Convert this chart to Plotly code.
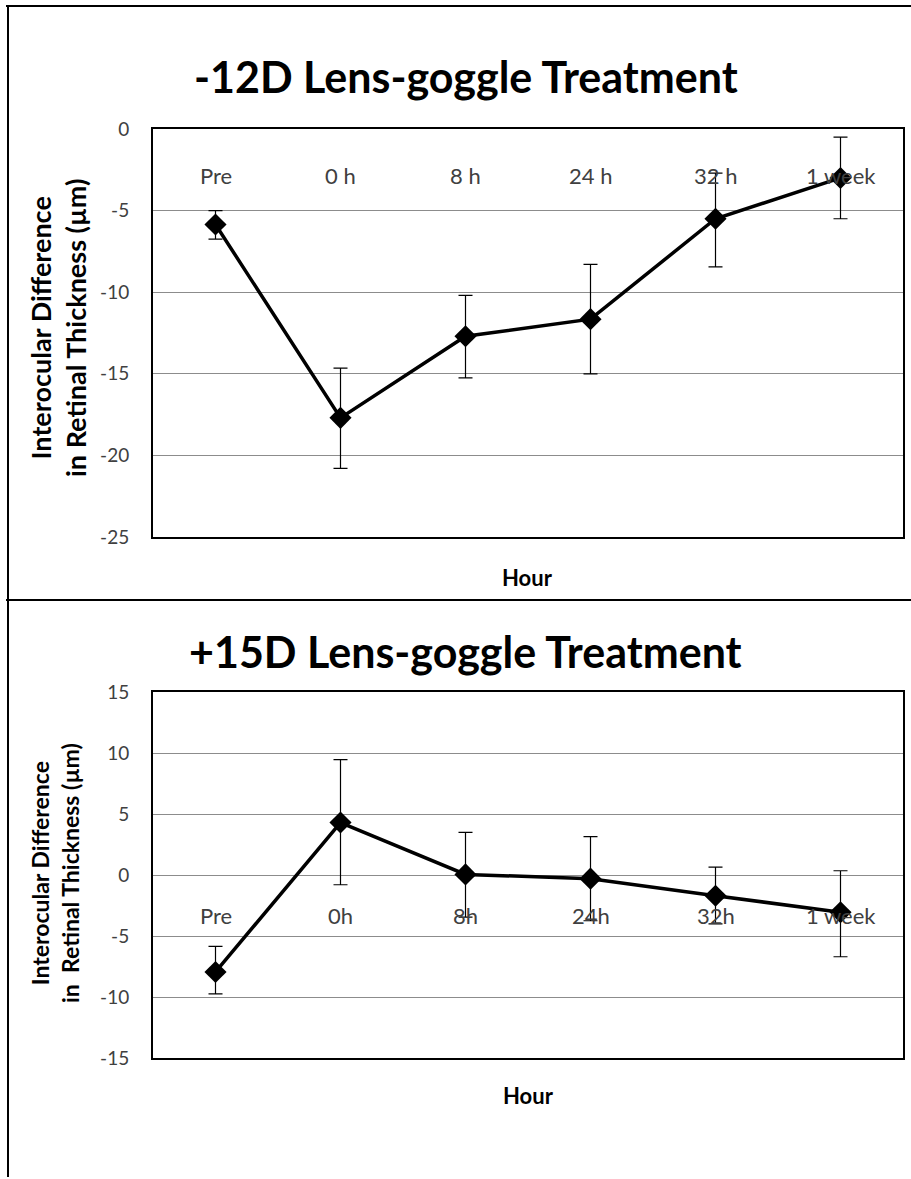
import plotly.graph_objects as go

categories = ["Pre", "0 h", "8 h", "24 h", "32 h", "1 week"]
categories_bottom = ["Pre", "0h", "8h", "24h", "32h", "1 week"]

top_values = [-5.85, -17.7, -12.7, -11.65, -5.5, -3.0]
top_err_plus = [0.85, 3.05, 2.5, 3.35, 2.8, 2.5]
top_err_minus = [0.9, 3.1, 2.55, 3.35, 2.95, 2.5]

bottom_values = [-7.95, 4.3, 0.05, -0.3, -1.7, -3.05]
bottom_err_plus = [2.1, 5.15, 3.45, 3.45, 2.35, 3.4]
bottom_err_minus = [1.8, 5.1, 3.5, 3.45, 2.3, 3.65]

top_yticks = [0, -5, -10, -15, -20, -25]
top_yticklabels = ["0", "-5", "-10", "-15", "-20", "-25"]
bottom_yticks = [15, 10, 5, 0, -5, -10, -15]
bottom_yticklabels = ["15", "10", "5", "0", "-5", "-10", "-15"]

top_title = "-12D Lens-goggle Treatment"
bottom_title = "+15D Lens-goggle Treatment"
y_title_top = "Interocular Difference<br>in Retinal Thickness (µm)"
y_title_bottom = "Interocular Difference<br>in\u00a0 Retinal Thickness (µm)"
x_title = "Hour"

W, H = 911, 1179
FONT = "Lato"


def px(x):
    return x / W


def py(y):
    return 1 - y / H


fig = go.Figure()

x_idx = list(range(len(categories)))

fig.add_trace(go.Scatter(
    x=x_idx, y=top_values, mode="lines+markers",
    line=dict(color="black", width=3.5),
    marker=dict(symbol="diamond", size=17, color="black"),
    error_y=dict(type="data", symmetric=False, array=top_err_plus,
                 arrayminus=top_err_minus, color="black", thickness=1.2, width=7),
    xaxis="x", yaxis="y", showlegend=False, cliponaxis=False,
))
fig.add_trace(go.Scatter(
    x=x_idx, y=bottom_values, mode="lines+markers",
    line=dict(color="black", width=3.5),
    marker=dict(symbol="diamond", size=17, color="black"),
    error_y=dict(type="data", symmetric=False, array=bottom_err_plus,
                 arrayminus=bottom_err_minus, color="black", thickness=1.2, width=7),
    xaxis="x2", yaxis="y2", showlegend=False, cliponaxis=False,
))

xdom = [px(153), px(903)]
top_ydom = [py(537), py(129)]
bot_ydom = [py(1058), py(692)]

axis_common = dict(showline=True, linecolor="black", linewidth=2, mirror=True, automargin=False)

fig.update_layout(
    template="none",
    width=W, height=H,
    margin=dict(l=0, r=0, t=0, b=0, pad=0, autoexpand=False),
    paper_bgcolor="white", plot_bgcolor="white",
    font=dict(family=FONT, color="#404040"),
    xaxis=dict(domain=xdom, range=[-0.5, 5.5], showticklabels=False,
               showgrid=False, zeroline=False, ticks="", anchor="y", **axis_common),
    yaxis=dict(domain=top_ydom, range=[-25, 0], tickmode="array",
               tickvals=top_yticks, ticktext=top_yticklabels, showgrid=True,
               gridcolor="#8c8c8c", gridwidth=1, zeroline=False, ticks="",
               tickfont=dict(size=19, color="#404040", family=FONT),
               ticklabelstandoff=18, anchor="x", **axis_common),
    xaxis2=dict(domain=xdom, range=[-0.5, 5.5], showticklabels=False,
                showgrid=False, zeroline=False, ticks="", anchor="y2", **axis_common),
    yaxis2=dict(domain=bot_ydom, range=[-15, 15], tickmode="array",
                tickvals=bottom_yticks, ticktext=bottom_yticklabels, showgrid=True,
                gridcolor="#8c8c8c", gridwidth=1, zeroline=True,
                zerolinecolor="#8c8c8c", zerolinewidth=1, ticks="",
                tickfont=dict(size=19, color="#404040", family=FONT),
                ticklabelstandoff=18, anchor="x2", **axis_common),
)

annotations = []
# category labels next to horizontal axis crossing at 0
for i, c in enumerate(categories):
    annotations.append(dict(x=i, y=0, xref="x", yref="y", text=c, showarrow=False,
                            yanchor="middle", yshift=-46,
                            font=dict(size=22, color="#404040", family=FONT)))
for i, c in enumerate(categories_bottom):
    annotations.append(dict(x=i, y=0, xref="x2", yref="y2", text=c, showarrow=False,
                            yanchor="middle", yshift=-40,
                            font=dict(size=22, color="#404040", family=FONT)))

# titles
annotations.append(dict(x=px(466), y=py(77), xref="paper", yref="paper", text="<b>%s</b>" % top_title,
                        showarrow=False, xanchor="center", yanchor="middle",
                        font=dict(size=43, color="black", family=FONT)))
annotations.append(dict(x=px(466), y=py(652), xref="paper", yref="paper", text="<b>%s</b>" % bottom_title,
                        showarrow=False, xanchor="center", yanchor="middle",
                        font=dict(size=43, color="black", family=FONT)))
# x titles
annotations.append(dict(x=px(527), y=py(577), xref="paper", yref="paper", text="<b>%s</b>" % x_title,
                        showarrow=False, xanchor="center", yanchor="middle",
                        font=dict(size=22, color="black", family=FONT)))
annotations.append(dict(x=px(528), y=py(1095), xref="paper", yref="paper", text="<b>%s</b>" % x_title,
                        showarrow=False, xanchor="center", yanchor="middle",
                        font=dict(size=22, color="black", family=FONT)))
# y titles
annotations.append(dict(x=px(58), y=py(328), xref="paper", yref="paper", text="<b>%s</b>" % y_title_top,
                        showarrow=False, xanchor="center", yanchor="middle", textangle=-90,
                        font=dict(size=27, color="black", family=FONT)))
annotations.append(dict(x=px(55), y=py(873), xref="paper", yref="paper", text="<b>%s</b>" % y_title_bottom,
                        showarrow=False, xanchor="center", yanchor="middle", textangle=-90,
                        font=dict(size=23, color="black", family=FONT)))
fig.update_layout(annotations=annotations)

# chart area borders
shapes = [
    dict(type="line", xref="paper", yref="paper", x0=px(6), x1=1, y0=py(6), y1=py(6),
         line=dict(color="black", width=2)),
    dict(type="line", xref="paper", yref="paper", x0=px(8), x1=px(8), y0=py(5), y1=py(1177),
         line=dict(color="black", width=2)),
    dict(type="line", xref="paper", yref="paper", x0=px(6), x1=1, y0=py(600), y1=py(600),
         line=dict(color="black", width=2)),
]
fig.update_layout(shapes=shapes)

fig.write_html("out.html")
